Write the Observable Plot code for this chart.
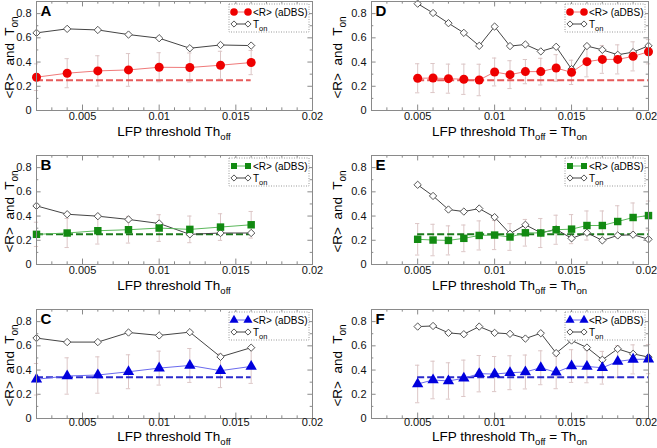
<!DOCTYPE html>
<html><head><meta charset="utf-8">
<script src="https://cdn.jsdelivr.net/npm/d3@7"></script>
<script src="https://cdn.jsdelivr.net/npm/@observablehq/plot@0.6"></script>
<style>
body{margin:0;background:#fff;}
#wrap{position:relative;width:657px;height:448px;overflow:hidden;font-family:"Liberation Sans",Arial,sans-serif;}
#wrap svg{position:absolute;}
</style></head><body><div id="wrap"></div>
<script>
// x values
const xLeft = [0.002,0.004,0.006,0.008,0.010,0.012,0.014,0.016];
const xRight = [0.005,0.006,0.007,0.008,0.009,0.010,0.011,0.012,0.013,0.014,0.015,0.016,0.017,0.018,0.019,0.020];
// Panel A (red, Th_off)
const rA = [0.275,0.308,0.327,0.335,0.357,0.355,0.374,0.396];
const eA = [0.11,0.12,0.125,0.135,0.12,0.12,0.115,0.10];
const tA = [0.641,0.674,0.665,0.627,0.597,0.514,0.541,0.536];
// Panel B (green, Th_off)
const rB = [0.249,0.260,0.279,0.287,0.301,0.290,0.309,0.328];
const eB = [0.10,0.12,0.11,0.11,0.11,0.11,0.11,0.11];
const tB = [0.484,0.415,0.399,0.372,0.339,0.249,0.260,0.260];
// Panel C (blue, Th_off)
const rC = [0.324,0.351,0.359,0.386,0.416,0.438,0.395,0.430];
const eC = [0.13,0.15,0.15,0.14,0.14,0.14,0.14,0.14];
const tC = [0.664,0.631,0.631,0.710,0.686,0.713,0.509,0.585];
// Panel D (red, Th_off = Th_on)
const rD = [0.266,0.268,0.263,0.258,0.252,0.318,0.296,0.321,0.321,0.351,0.315,0.403,0.422,0.422,0.447,0.485];
const eD = [0.12,0.12,0.12,0.125,0.13,0.115,0.115,0.10,0.11,0.11,0.10,0.125,0.115,0.12,0.12,0.10];
const tD = [0.882,0.805,0.721,0.641,0.534,0.693,0.532,0.545,0.488,0.526,0.342,0.532,0.501,0.460,0.482,0.534];
// Panel E (green, Th_off = Th_on)
const rE = [0.208,0.202,0.199,0.216,0.240,0.243,0.227,0.262,0.260,0.287,0.292,0.322,0.322,0.355,0.388,0.404];
const eE = [0.13,0.13,0.12,0.11,0.12,0.12,0.11,0.11,0.12,0.12,0.12,0.12,0.12,0.13,0.12,0.12];
const tE = [0.658,0.566,0.454,0.437,0.462,0.391,0.254,0.328,0.262,0.290,0.216,0.262,0.199,0.240,0.246,0.208];
// Panel F (blue, Th_off = Th_on)
const rF = [0.285,0.318,0.310,0.332,0.370,0.367,0.378,0.384,0.419,0.381,0.433,0.430,0.419,0.471,0.488,0.490];
const eF = [0.155,0.155,0.15,0.15,0.15,0.145,0.14,0.14,0.14,0.135,0.135,0.135,0.135,0.13,0.12,0.12];
const tF = [0.759,0.764,0.707,0.696,0.759,0.707,0.699,0.660,0.704,0.540,0.644,0.586,0.485,0.575,0.534,0.507];
// reference levels
const baseRG = 0.25, baseB = 0.34;
// tick labels
const xTicks = [0.005,0.01,0.015,0.02];
const yTicks = [0,0.2,0.4,0.6,0.8];
const letters = ["A","B","C","D","E","F"];

const RED = {marker:"#ee0000", line:"#f07a7a", dash:"#e65a5a", symbol:"circle"};
const GRN = {marker:"#128a12", line:"#5cb85c", dash:"#1a7a1a", symbol:"square"};
const BLU = {marker:"#0000dd", line:"#6a6aee", dash:"#2a2acc", symbol:"triangle"};

const panels = [
  {xs:xLeft, r:rA, e:eA, t:tA, base:baseRG, c:RED, letter:letters[0], col:0, row:0},
  {xs:xLeft, r:rB, e:eB, t:tB, base:baseRG, c:GRN, letter:letters[1], col:0, row:1},
  {xs:xLeft, r:rC, e:eC, t:tC, base:baseB, c:BLU, letter:letters[2], col:0, row:2},
  {xs:xRight, r:rD, e:eD, t:tD, base:baseRG, c:RED, letter:letters[3], col:1, row:0},
  {xs:xRight, r:rE, e:eE, t:tE, base:baseRG, c:GRN, letter:letters[4], col:1, row:1},
  {xs:xRight, r:rF, e:eF, t:tF, base:baseB, c:BLU, letter:letters[5], col:1, row:2},
];

const ERR = "#dcc6c6", FRAME = "#8a8a8a", FONT = '"Liberation Sans", Arial, sans-serif';
const wrap = document.getElementById("wrap");

function panel(p){
  const data = p.xs.map((x,i)=>({x, r:p.r[i], e:p.e[i], t:p.t[i]}));
  const W = p.col===0?328:329, ml = p.col===0?36:43, mr = p.col===0?16:9;
  const last = p.row===2;
  const H = 140, mt = 1, mb = 30;
  const minorX = d3.range(2,21).map(i=>i/1000);
  const minorY = d3.range(0,10).map(i=>i/10);
  const isMajX = d => Math.abs(Math.round(d*200) - d*200) < 1e-6;
  const isMajY = d => Math.abs(Math.round(d*5) - d*5) < 1e-6;
  const capW = 0.00014;
  const xLab = p.col===1 ? xTicks.slice(0,3) : xTicks;
  const svg = Plot.plot({
    width:W, height:H, marginTop:mt, marginBottom:mb, marginLeft:ml, marginRight:mr,
    style:{fontFamily:FONT, fontSize:"11px", background:"transparent", overflow:"visible", color:"#111"},
    x:{domain:[0.002,0.02]}, y:{domain:[0,0.9]},
    marks:[
      // inward ticks
      Plot.ruleX(minorX,{x:d=>d, y1:0, y2:d=>isMajX(d)?0.045:0.022, stroke:FRAME}),
      Plot.ruleX(minorX,{x:d=>d, y1:0.9, y2:d=>isMajX(d)?0.855:0.878, stroke:FRAME}),
      Plot.ruleY(minorY,{y:d=>d, x1:0.002, x2:d=>isMajY(d)?0.0023:0.00215, stroke:FRAME}),
      Plot.ruleY(minorY,{y:d=>d, x1:0.02, x2:d=>isMajY(d)?0.0197:0.01985, stroke:FRAME}),
      // error bars
      Plot.ruleX(data,{x:"x", y1:d=>d.r-d.e, y2:d=>d.r+d.e, stroke:ERR}),
      Plot.ruleY(data,{y:d=>d.r+d.e, x1:d=>d.x-capW, x2:d=>d.x+capW, stroke:ERR}),
      Plot.ruleY(data,{y:d=>d.r-d.e, x1:d=>d.x-capW, x2:d=>d.x+capW, stroke:ERR}),
      // reference dashed
      Plot.ruleY([p.base],{y:d=>d, x1:p.xs[0], x2:p.xs[p.xs.length-1], stroke:p.c.dash, strokeWidth:2, strokeDasharray:"7,3"}),
      // T_on
      Plot.line(data,{x:"x", y:"t", stroke:"#444", strokeWidth:1}),
      Plot.dot(data,{x:"x", y:"t", symbol:"diamond2", r:3.3, fill:"white", stroke:"#555", strokeWidth:1}),
      // <R>
      Plot.line(data,{x:"x", y:"r", stroke:p.c.line, strokeWidth:1}),
      Plot.dot(data,{x:"x", y:"r", symbol:p.c.symbol, r:p.c.symbol==="circle"?4.5:4.2, fill:p.c.marker, stroke:"none"}),
      Plot.frame({stroke:FRAME}),
      Plot.axisX(xLab,{tickSize:0, tickPadding:last?0:2, tickFormat:d=>String(d), label:null, fontSize:11}),
      p.col===1 ? Plot.axisX([xTicks[3]],{tickSize:0, tickPadding:last?0:2, tickFormat:d=>String(d), label:null, fontSize:11, dx:-2}) : null,
      Plot.axisY(yTicks,{tickSize:0, tickPadding:5, tickFormat:d=>String(d), label:null, fontSize:11}),
      Plot.text([p.letter],{frameAnchor:"top-left", dx:4, dy:4, fontWeight:"bold", fontSize:15, fill:"#000"})
    ]
  });
  svg.style.left = (p.col===0?0:328)+"px";
  svg.style.top = (p.row*154)+"px";
  const s = d3.select(svg);
  const fL = ml, fR = W-mr, fT = mt, fB = H-mb;
  // y title
  const yt = s.append("text").attr("transform",`translate(${14},${(fT+fB)/2 + 2}) rotate(-90)`)
    .attr("text-anchor","middle").attr("font-size",13.5).attr("fill","#000").style("white-space","pre");
  yt.append("tspan").text("<R>  and  T");
  yt.append("tspan").attr("dy",4).attr("font-size",10).text("on");
  // x title
  const xt = s.append("text").attr("x",(fL+fR)/2).attr("y",last?133:136)
    .attr("text-anchor","middle").attr("font-size",13.5).attr("fill","#000");
  xt.append("tspan").text("LFP threshold Th");
  xt.append("tspan").attr("dy",4).attr("font-size",9.5).text("off");
  if (p.col===1){
    xt.append("tspan").attr("dy",-4).text(" = Th");
    xt.append("tspan").attr("dy",4).attr("font-size",9.5).text("on");
  }
  // legend
  const bx = fR-83, by = fT+3, bw = 80, bh = 28;
  const g = s.append("g").attr("text-anchor","start");
  g.append("rect").attr("x",bx).attr("y",by).attr("width",bw).attr("height",bh)
    .attr("fill","white").attr("stroke","#999").attr("stroke-dasharray","1,1.5");
  const y1 = by+8, y2 = by+20, m1 = bx+5, m2 = bx+19;
  g.append("line").attr("x1",m1).attr("x2",m2).attr("y1",y1).attr("y2",y1).attr("stroke",p.c.line);
  const symMap = {circle:d3.symbolCircle, square:d3.symbolSquare, triangle:d3.symbolTriangle};
  const sz = Math.PI*(p.c.symbol==="circle"?3.8:3.4)**2;
  [m1,m2].forEach(mx=>g.append("path").attr("d",d3.symbol(symMap[p.c.symbol],sz)())
    .attr("transform",`translate(${mx},${y1})`).attr("fill",p.c.marker));
  g.append("text").attr("text-anchor","start").attr("x",bx+24).attr("y",y1+3.5).attr("font-size",10).attr("fill","#000").text("<R> (aDBS)");
  g.append("line").attr("x1",m1).attr("x2",m2).attr("y1",y2).attr("y2",y2).attr("stroke","#444");
  [m1,m2].forEach(mx=>g.append("path").attr("d",d3.symbol(d3.symbolDiamond2,Math.PI*2.8**2)())
    .attr("transform",`translate(${mx},${y2})`).attr("fill","white").attr("stroke","#555"));
  const lt = g.append("text").attr("text-anchor","start").attr("x",bx+24).attr("y",y2+3.5).attr("font-size",10).attr("fill","#000");
  lt.append("tspan").text("T");
  lt.append("tspan").attr("dy",3).attr("font-size",7.5).text("on");
  wrap.appendChild(svg);
}
panels.forEach(panel);
</script></body></html>
